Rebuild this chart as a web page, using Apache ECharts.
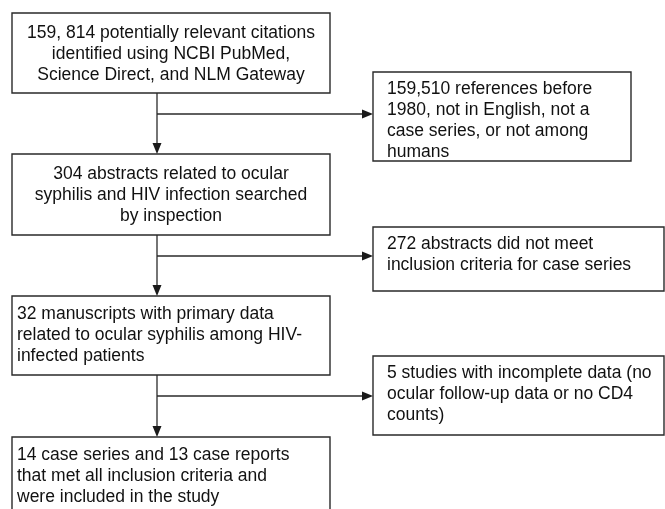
<!DOCTYPE html>
<html>
<head>
<meta charset="utf-8">
<script src="https://cdn.jsdelivr.net/npm/echarts@6/dist/echarts.min.js"></script>
<style>
html,body{margin:0;padding:0;background:#fff;}
#chart{width:665px;height:509px;}
</style>
</head>
<body>
<div id="chart"></div>
<script>
// Flow steps (main column) and exclusions (side column)
const mainTexts = [
  "159, 814 potentially relevant citations\nidentified using NCBI PubMed,\nScience Direct, and NLM Gateway",
  "304 abstracts related to ocular\nsyphilis and HIV infection searched\nby inspection",
  "32 manuscripts with primary data\nrelated to ocular syphilis among HIV-\ninfected patients",
  "14 case series and 13 case reports\nthat met all inclusion criteria and\nwere included in the study"
];
const sideTexts = [
  "159,510 references before\n1980, not in English, not a\ncase series, or not among\nhumans",
  "272 abstracts did not meet\ninclusion criteria for case series",
  "5 studies with incomplete data (no\nocular follow-up data or no CD4\ncounts)"
];
// Box extents in diagram units: [x0, y0, x1, y1]
const mainBoxes = [[12,13,330,93],[12,154,330,235],[12,296,330,375],[12,437,330,530]];
const sideBoxes = [[373,72,631,161],[373,227,664,291],[373,356,664,435]];
const trunkX = 157;
const branchY = [114, 256, 396];

const FONT = '17.5px "Liberation Sans", Arial, sans-serif';
const LINE = '#2a2a2a';

function boxItem(api, b, txt, mode) {
  const p0 = api.coord([b[0], b[1]]);
  const p1 = api.coord([b[2], b[3]]);
  const children = [{
    type: 'rect',
    shape: {x: p0[0], y: p0[1], width: p1[0]-p0[0], height: p1[1]-p0[1]},
    style: {fill: '#fff', stroke: LINE, lineWidth: 1.4}
  }];
  let ts;
  if (mode === 'center') {
    ts = {x: (p0[0]+p1[0])/2, y: (p0[1]+p1[1])/2 + 1, textAlign: 'center', textVerticalAlign: 'middle'};
  } else if (mode === 'leftmid') {
    ts = {x: p0[0]+5, y: (p0[1]+p1[1])/2, textAlign: 'left', textVerticalAlign: 'middle'};
  } else if (mode === 'lefttop5') {
    ts = {x: p0[0]+5, y: p0[1]+8, textAlign: 'left', textVerticalAlign: 'top'};
  } else {
    ts = {x: p0[0]+14, y: p0[1]+7, textAlign: 'left', textVerticalAlign: 'top'};
  }
  children.push({
    type: 'text',
    style: Object.assign({text: txt, font: FONT, fill: '#111', lineHeight: 21}, ts)
  });
  return {type: 'group', children};
}

function arrowHead(tip, dir) {
  const L = 11, H = 4.5;
  if (dir === 'down') {
    return [[tip[0]-H, tip[1]-L],[tip[0]+H, tip[1]-L],[tip[0], tip[1]]];
  }
  return [[tip[0]-L, tip[1]-H],[tip[0]-L, tip[1]+H],[tip[0], tip[1]]];
}

const connectorData = [];
for (let i = 0; i < branchY.length; i++) connectorData.push([i]);

const option = {
  animation: false,
  grid: {left: 0, right: 0, top: 0, bottom: 0},
  xAxis: {type: 'value', min: 0, max: 665, show: false},
  yAxis: {type: 'value', min: 0, max: 509, inverse: true, show: false},
  series: [
    {
      type: 'custom',
      coordinateSystem: 'cartesian2d',
      data: mainBoxes.map((b, i) => [b[0], b[1], i]),
      renderItem: function (params, api) {
        const i = params.dataIndex;
        const mode = i < 2 ? 'center' : (i === 2 ? 'leftmid' : 'lefttop5');
        return boxItem(api, mainBoxes[i], mainTexts[i], mode);
      },
      z: 3
    },
    {
      type: 'custom',
      coordinateSystem: 'cartesian2d',
      data: sideBoxes.map((b, i) => [b[0], b[1], i]),
      renderItem: function (params, api) {
        const i = params.dataIndex;
        return boxItem(api, sideBoxes[i], sideTexts[i], 'side');
      },
      z: 3
    },
    {
      type: 'custom',
      coordinateSystem: 'cartesian2d',
      data: connectorData,
      renderItem: function (params, api) {
        const i = params.dataIndex;
        const top = api.coord([trunkX, mainBoxes[i][3]]);
        const bot = api.coord([trunkX, mainBoxes[i+1][1]]);
        const br0 = api.coord([trunkX, branchY[i]]);
        const br1 = api.coord([sideBoxes[i][0], branchY[i]]);
        return {
          type: 'group',
          children: [
            {type: 'line', shape: {x1: top[0], y1: top[1], x2: bot[0], y2: bot[1]-6}, style: {stroke: LINE, lineWidth: 1.3}},
            {type: 'polygon', shape: {points: arrowHead(bot, 'down')}, style: {fill: '#1a1a1a'}},
            {type: 'line', shape: {x1: br0[0], y1: br0[1], x2: br1[0]-6, y2: br1[1]}, style: {stroke: LINE, lineWidth: 1.3}},
            {type: 'polygon', shape: {points: arrowHead(br1, 'right')}, style: {fill: '#1a1a1a'}}
          ]
        };
      },
      z: 2
    }
  ]
};

const chart = echarts.init(document.getElementById('chart'), null, {renderer: 'canvas'});
chart.setOption(option);
</script>
</body>
</html>
